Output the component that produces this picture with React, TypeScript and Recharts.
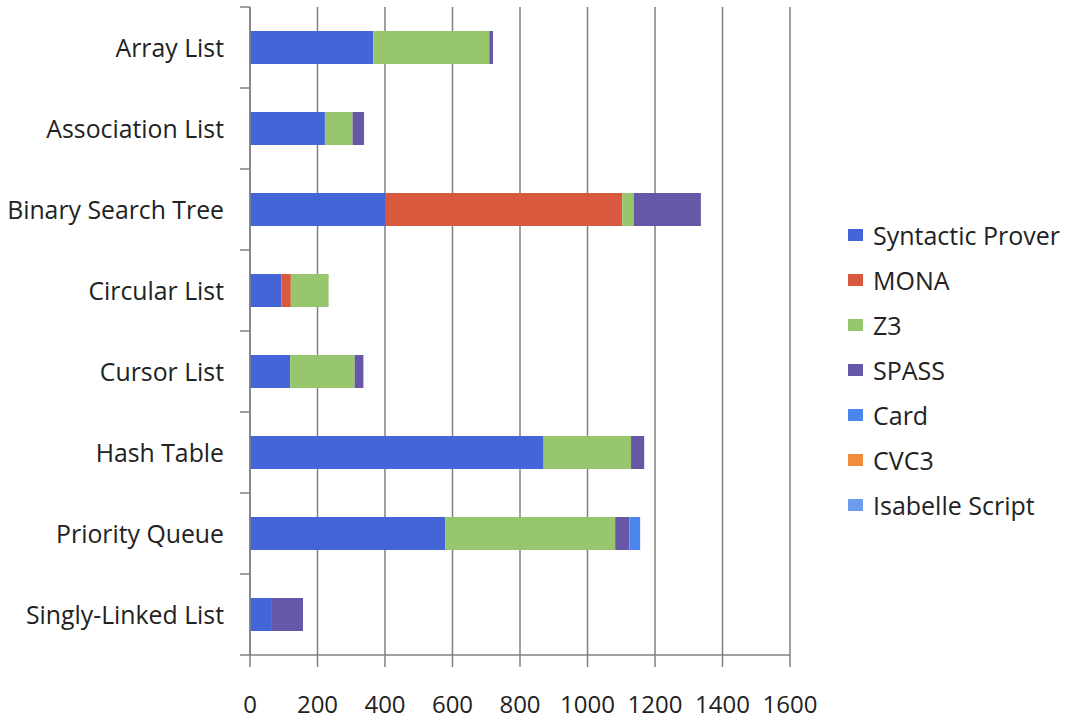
import { BarChart, Bar, XAxis, YAxis, CartesianGrid, Legend } from "recharts";

// Categories, top to bottom
const categories = [
  "Array List", "Association List", "Binary Search Tree", "Circular List",
  "Cursor List", "Hash Table", "Priority Queue", "Singly-Linked List",
];

// Series values
const syntacticProver = [365, 222, 402, 93, 119, 870, 579, 65];
const mona = [0, 0, 701, 28, 0, 0, 0, 0];
const z3 = [344, 82, 34, 112, 191, 259, 503, 0];
const spass = [11, 34, 199, 0, 26, 39, 42, 92];
const card = [0, 0, 0, 0, 0, 0, 32, 0];
const cvc3 = [0, 0, 0, 0, 0, 0, 0, 0];
const isabelleScript = [0, 0, 0, 0, 0, 0, 0, 0];

const xTicks = [0, 200, 400, 600, 800, 1000, 1200, 1400, 1600];

const series = [
  { key: "syntactic", name: "Syntactic Prover", color: "#4465d8", values: syntacticProver },
  { key: "mona", name: "MONA", color: "#d9593f", values: mona },
  { key: "z3", name: "Z3", color: "#97c66e", values: z3 },
  { key: "spass", name: "SPASS", color: "#6658a6", values: spass },
  { key: "card", name: "Card", color: "#4a86ee", values: card },
  { key: "cvc3", name: "CVC3", color: "#f08c3c", values: cvc3 },
  { key: "isabelle", name: "Isabelle Script", color: "#6c9cf0", values: isabelleScript },
];

const rows = categories.map((name, i) => {
  const row: Record<string, string | number> = { name };
  series.forEach(s => { row[s.key] = s.values[i]; });
  return row;
});

const FONT = "'Open Sans', Lato, sans-serif";
const AXIS = "#808080";
const Y_TICK_SIZE = 10;
const Y_TICK_MARGIN = 16;

// category label + small boundary ticks between bands
function CategoryTick(props: any) {
  const { x, y, payload, index } = props;
  const half = payload.offset || 0;
  const x2 = x + Y_TICK_MARGIN + Y_TICK_SIZE;
  const x1 = x2 - Y_TICK_SIZE;
  return (
    <g>
      <text x={x} y={y} dy="0.38em" textAnchor="end" fontSize={24.8} fill="#222" fontFamily={FONT}>
        {payload.value}
      </text>
      <line x1={x1} x2={x2} y1={y - half} y2={y - half} stroke={AXIS} strokeWidth={1.5} />
      {index === categories.length - 1 && (
        <line x1={x1} x2={x2} y1={y + half} y2={y + half} stroke={AXIS} strokeWidth={1.5} />
      )}
    </g>
  );
}

// legend in series order (not sorted)
function LegendList() {
  return (
    <div style={{ fontFamily: FONT, fontSize: 25, color: "#222" }}>
      {series.map(s => (
        <div key={s.key} style={{ display: "flex", alignItems: "center", height: 45 }}>
          <span style={{ width: 15, height: 12, background: s.color, marginRight: 10, display: "inline-block" }} />
          <span>{s.name}</span>
        </div>
      ))}
    </div>
  );
}

export default function App() {
  return (
    <div style={{ position: "absolute", left: 0, top: 0, width: 1069, height: 721, background: "#fff" }}>
      <BarChart
        width={1069}
        height={721}
        data={rows}
        layout="vertical"
        margin={{ top: 7, right: 58, left: 0, bottom: 0 }}
        barSize={33}
      >
        <CartesianGrid horizontal={false} stroke={AXIS} strokeWidth={1.5} />
        <XAxis
          type="number"
          domain={[0, 1600]}
          ticks={xTicks}
          interval={0}
          height={66}
          tickSize={12}
          tickMargin={29}
          axisLine={{ stroke: AXIS, strokeWidth: 1.5 }}
          tickLine={{ stroke: AXIS, strokeWidth: 1.5 }}
          tick={{ fontSize: 24, fill: "#222", fontFamily: FONT }}
        />
        <YAxis
          type="category"
          dataKey="name"
          width={250}
          interval={0}
          tickSize={Y_TICK_SIZE}
          tickMargin={Y_TICK_MARGIN}
          tickLine={false}
          axisLine={{ stroke: AXIS, strokeWidth: 1.5 }}
          tick={<CategoryTick />}
        />
        <Legend
          layout="vertical"
          align="right"
          verticalAlign="top"
          wrapperStyle={{ left: 848, top: 212, width: 221 }}
          content={<LegendList />}
        />
        {series.map(s => (
          <Bar key={s.key} dataKey={s.key} name={s.name} stackId="a" fill={s.color} isAnimationActive={false} />
        ))}
      </BarChart>
    </div>
  );
}
